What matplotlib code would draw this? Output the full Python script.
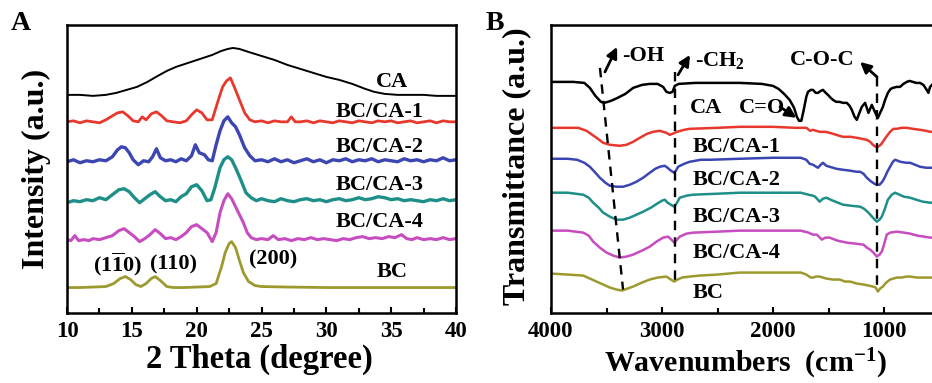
import matplotlib
matplotlib.use('Agg')
import numpy as np
import matplotlib.pyplot as plt
from matplotlib.ticker import MultipleLocator

# ---- XRD (panel A): (2 theta, offset intensity) ----
xrd_ca = [(10, 218), (11, 218), (12, 217), (13, 218), (13.8, 220), (14.6, 223), (15.4, 226),
          (16.2, 231), (17, 237), (17.7, 242), (18.4, 246), (19.1, 249), (19.8, 252),
          (20.5, 255), (21.2, 258), (21.9, 262), (22.4, 264), (22.8, 265), (23.3, 264),
          (24, 261), (25, 257), (26, 253), (27, 248), (28, 244), (29, 240), (30, 236),
          (31, 233), (32, 229), (33, 224), (33.7, 221), (34.5, 219), (35.5, 218),
          (36.5, 218), (37.5, 218), (38.5, 217), (40, 217)]
xrd_bcca1 = [(10, 191), (10.5, 192), (11, 190), (11.5, 192), (12, 191), (12.5, 190), (13, 193),
             (13.5, 197), (13.9, 200), (14.3, 201), (14.7, 197), (15.1, 192), (15.5, 191),
             (15.8, 196), (16.1, 193), (16.5, 199), (16.9, 201), (17.3, 197), (17.7, 192),
             (18.2, 191), (18.7, 190), (19.2, 192), (19.6, 198), (20.0, 203), (20.4, 200),
             (20.8, 193), (21.2, 193), (21.6, 210), (22.0, 226), (22.3, 232), (22.6, 235),
             (22.9, 226), (23.3, 213), (23.7, 200), (24.1, 193), (24.5, 191), (25, 192),
             (25.5, 190), (26, 192), (26.5, 191), (27, 191), (27.3, 196), (27.6, 191),
             (28, 191), (28.5, 192), (29, 190), (29.5, 192), (30, 191), (30.5, 190),
             (31, 192), (31.5, 191), (32, 190), (32.5, 192), (33, 191), (33.5, 190),
             (34, 192), (34.5, 191), (35, 192), (35.5, 190), (36, 191), (36.5, 192),
             (37, 190), (37.5, 191), (38, 192), (38.5, 190), (39, 192), (39.5, 191), (40, 191)]
xrd_bcca2 = [(10, 151), (10.5, 153), (11, 150), (11.5, 152), (12, 151), (12.5, 153), (13, 152),
             (13.5, 156), (13.9, 163), (14.2, 166), (14.5, 165), (14.8, 160), (15.1, 153),
             (15.5, 148), (15.9, 152), (16.3, 151), (16.6, 156), (16.9, 164), (17.2, 155),
             (17.6, 152), (18, 153), (18.4, 151), (18.8, 154), (19.2, 152), (19.6, 157),
             (19.9, 168), (20.2, 160), (20.6, 158), (20.9, 153), (21.2, 152), (21.5, 168),
             (21.8, 182), (22.1, 192), (22.4, 196), (22.7, 190), (23.0, 186), (23.3, 178),
             (23.7, 165), (24.1, 157), (24.5, 152), (25, 153), (25.5, 151), (26, 154),
             (26.5, 151), (27, 153), (27.5, 150), (28, 152), (28.5, 154), (29, 151),
             (29.5, 153), (30, 150), (30.5, 153), (31, 152), (31.5, 154), (32, 151),
             (32.5, 153), (33, 152), (33.5, 154), (34, 151), (34.5, 153), (35, 152),
             (35.5, 151), (36, 154), (36.5, 152), (37, 153), (37.5, 151), (38, 153),
             (38.5, 152), (39, 155), (39.5, 152), (40, 153)]
xrd_bcca3 = [(10, 110), (10.5, 112), (11, 111), (11.5, 113), (12, 112), (12.5, 115), (13, 113),
             (13.5, 118), (14, 123), (14.4, 124), (14.8, 121), (15.2, 115), (15.6, 110),
             (16, 114), (16.4, 118), (16.8, 121), (17.2, 116), (17.6, 112), (18, 113),
             (18.4, 111), (18.8, 116), (19.2, 119), (19.6, 126), (20, 128), (20.4, 122),
             (20.8, 112), (21.1, 113), (21.4, 125), (21.8, 145), (22.1, 153), (22.4, 156),
             (22.7, 153), (23.0, 145), (23.4, 133), (23.8, 120), (24.2, 115), (24.6, 112),
             (25, 114), (25.5, 112), (26, 111), (26.5, 114), (27, 112), (27.5, 111),
             (28, 113), (28.5, 114), (29, 112), (29.5, 113), (30, 111), (30.5, 113),
             (31, 114), (31.5, 112), (32, 113), (32.5, 115), (33, 113), (33.5, 114),
             (34, 116), (34.5, 115), (35, 113), (35.5, 114), (36, 112), (36.5, 113),
             (37, 112), (37.5, 111), (38, 113), (38.5, 112), (39, 114), (39.5, 112), (40, 113)]
xrd_bcca4 = [(10, 73), (10.3, 72), (10.6, 77), (10.9, 72), (11.3, 73), (11.7, 72), (12, 74),
             (12.5, 73), (13, 75), (13.5, 77), (14, 82), (14.4, 84), (14.8, 80), (15.2, 76),
             (15.6, 71), (16, 74), (16.4, 78), (16.8, 83), (17.2, 79), (17.6, 74), (18, 75),
             (18.4, 73), (18.8, 76), (19.2, 80), (19.6, 86), (20, 88), (20.4, 84), (20.8, 80),
             (21.2, 71), (21.5, 80), (21.8, 100), (22.1, 112), (22.4, 119), (22.7, 114),
             (23.0, 106), (23.3, 98), (23.6, 90), (23.9, 80), (24.2, 75), (24.6, 73),
             (25, 74), (25.5, 73), (25.9, 77), (26.3, 73), (26.8, 74), (27.3, 72),
             (27.8, 74), (28.3, 73), (28.8, 75), (29.3, 73), (29.8, 74), (30.3, 73),
             (30.8, 72), (31.3, 74), (31.8, 73), (32.3, 75), (32.8, 76), (33.3, 74),
             (33.8, 75), (34.3, 74), (34.8, 76), (35.3, 75), (35.8, 78), (36.2, 74),
             (36.6, 73), (37, 75), (37.5, 73), (38, 74), (38.5, 73), (39, 75), (39.5, 73), (40, 74)]
xrd_bc = [(10, 25), (11, 25), (12, 25.5), (13, 26), (13.6, 29), (14.1, 34), (14.5, 36),
          (14.9, 33), (15.3, 28), (15.7, 26), (16.1, 29), (16.5, 34), (16.8, 36), (17.2, 32),
          (17.7, 26), (18.2, 25), (19, 25), (20, 25.5), (21, 26), (21.5, 29), (21.9, 45),
          (22.2, 60), (22.5, 69), (22.7, 71), (23.0, 65), (23.3, 52), (23.6, 40), (24, 31),
          (24.5, 27), (25, 26), (27, 25.5), (30, 25), (33, 25), (36, 25), (40, 25)]

# ---- FTIR (panel B): (wavenumber, offset transmittance) ----
ftir_ca = [(4000, 231), (3800, 231), (3700, 230), (3650, 225), (3600, 217), (3550, 211),
           (3520, 210), (3460, 212), (3400, 215), (3330, 219), (3260, 225), (3180, 228),
           (3110, 229), (3040, 229), (2990, 226), (2960, 221), (2930, 220), (2905, 221),
           (2885, 227), (2850, 229), (2700, 230), (2300, 230), (2100, 229), (2000, 227),
           (1950, 224), (1900, 219), (1850, 213), (1810, 205), (1785, 196), (1765, 192),
           (1745, 192), (1725, 202), (1700, 216), (1685, 221), (1660, 223), (1640, 223),
           (1615, 220), (1595, 220), (1570, 222), (1550, 223), (1525, 220), (1505, 218),
           (1480, 215), (1460, 213), (1430, 211), (1400, 211), (1370, 210), (1335, 210),
           (1310, 207), (1290, 203), (1265, 196), (1245, 193), (1225, 199), (1200, 206),
           (1170, 210), (1155, 205), (1140, 200), (1125, 204), (1110, 208), (1090, 203),
           (1070, 198), (1055, 195), (1035, 200), (1010, 206), (990, 213), (965, 220),
           (940, 224), (920, 225), (885, 226), (855, 226), (825, 229), (795, 231),
           (770, 232), (740, 231), (710, 230), (675, 230), (645, 228), (615, 223),
           (600, 220), (585, 226), (560, 229), (500, 230), (400, 230)]
ftir_bcca1 = [(4000, 185), (3850, 185), (3755, 185), (3680, 182), (3590, 175), (3530, 170),
              (3470, 168), (3380, 167), (3320, 168), (3260, 171), (3200, 175), (3135, 179),
              (3080, 181), (3020, 182), (2960, 180), (2930, 178), (2905, 179), (2865, 181),
              (2800, 183), (2750, 184), (2500, 185), (2300, 186), (2000, 186), (1800, 185),
              (1700, 185), (1665, 182), (1640, 183), (1580, 181), (1530, 181), (1490, 180),
              (1430, 178), (1370, 176), (1300, 176), (1245, 175), (1200, 174), (1155, 173),
              (1125, 171), (1100, 168), (1075, 166), (1055, 166), (1030, 168), (1010, 171),
              (980, 176), (945, 181), (915, 184), (885, 184), (840, 185), (795, 185),
              (740, 184), (675, 183), (620, 182), (585, 181), (500, 181), (400, 181)]
ftir_bcca2 = [(4000, 154), (3850, 154), (3765, 153), (3700, 150), (3650, 146), (3600, 140),
              (3560, 135), (3510, 130), (3470, 127), (3410, 126), (3350, 126), (3290, 128),
              (3230, 131), (3170, 135), (3110, 140), (3060, 144), (3020, 146), (2975, 147),
              (2950, 145), (2930, 143), (2905, 141), (2890, 140), (2870, 143), (2855, 146),
              (2800, 149), (2750, 151), (2650, 153), (2570, 153), (2300, 154), (2000, 155),
              (1750, 155), (1700, 153), (1670, 149), (1640, 148), (1595, 145), (1570, 148),
              (1550, 150), (1520, 147), (1490, 146), (1430, 144), (1370, 143), (1300, 142),
              (1250, 141), (1215, 141), (1185, 139), (1155, 135), (1125, 132), (1100, 130),
              (1070, 128), (1040, 128), (1015, 131), (995, 135), (970, 141), (945, 146),
              (920, 151), (900, 153), (875, 152), (855, 151), (800, 150), (765, 150),
              (720, 148), (675, 146), (620, 145), (585, 145), (500, 145), (400, 145)]
ftir_bcca3 = [(4000, 120), (3850, 120), (3710, 118), (3660, 115), (3620, 110), (3570, 105),
              (3530, 100), (3470, 96), (3410, 93), (3350, 93), (3290, 95), (3230, 98),
              (3170, 101), (3100, 105), (3045, 109), (3000, 112), (2975, 113), (2950, 110),
              (2920, 108), (2890, 106), (2865, 110), (2840, 115), (2780, 117), (2720, 118),
              (2500, 119), (2300, 120), (2000, 120), (1750, 120), (1680, 118), (1640, 117),
              (1620, 116), (1580, 111), (1550, 114), (1520, 115), (1460, 112), (1370, 108),
              (1300, 107), (1215, 106), (1180, 104), (1140, 100), (1100, 95), (1065, 91),
              (1040, 93), (1020, 96), (995, 103), (965, 113), (930, 118), (900, 120),
              (860, 118), (820, 116), (765, 115), (710, 113), (650, 111), (585, 110),
              (500, 110), (400, 110)]
ftir_bcca4 = [(4000, 82), (3850, 82), (3710, 80), (3660, 77), (3620, 71), (3560, 65),
              (3500, 60), (3440, 57), (3380, 55), (3320, 56), (3260, 58), (3180, 62),
              (3110, 66), (3050, 71), (2990, 75), (2945, 76), (2915, 73), (2890, 70),
              (2865, 73), (2840, 76), (2780, 79), (2720, 80), (2500, 81), (2300, 82),
              (2000, 82), (1750, 82), (1680, 80), (1640, 78), (1605, 78), (1560, 73),
              (1530, 75), (1490, 75), (1420, 72), (1335, 70), (1260, 69), (1185, 68),
              (1155, 65), (1125, 63), (1095, 60), (1065, 56), (1040, 58), (1020, 61),
              (1000, 68), (975, 78), (945, 80), (885, 81), (820, 80), (765, 79), (700, 77),
              (640, 76), (585, 75), (500, 75), (400, 75)]
ftir_bc = [(4000, 39), (3850, 38), (3710, 37), (3650, 34), (3590, 31), (3530, 28), (3470, 25),
           (3410, 23), (3360, 22), (3310, 24), (3260, 26), (3180, 30), (3110, 33), (3040, 35),
           (2960, 36), (2920, 33), (2890, 31), (2860, 33), (2820, 35), (2750, 36), (2660, 37),
           (2500, 38), (2300, 40), (2000, 40), (1750, 40), (1700, 38), (1660, 35), (1640, 35),
           (1610, 36), (1580, 36), (1520, 34), (1460, 33), (1400, 33), (1350, 31), (1305, 31),
           (1245, 29), (1185, 28), (1140, 27), (1100, 26), (1075, 25), (1055, 21), (1035, 24),
           (1010, 26), (980, 30), (945, 33), (915, 34), (885, 35), (840, 35), (800, 36),
           (765, 36), (700, 35), (640, 35), (585, 35), (500, 35), (400, 35)]

sample_names = ['CA', 'BC/CA-1', 'BC/CA-2', 'BC/CA-3', 'BC/CA-4', 'BC']
colors = ['#000000', '#e8372c', '#3b46b2', '#1e8f88', '#c64cc0', '#9c9a2e']
xrd_series = [xrd_ca, xrd_bcca1, xrd_bcca2, xrd_bcca3, xrd_bcca4, xrd_bc]
ftir_series = [ftir_ca, ftir_bcca1, ftir_bcca2, ftir_bcca3, ftir_bcca4, ftir_bc]

# label anchors
xrd_label_x = [35.1, 34.1, 34.1, 34.1, 34.1, 35.1]
xrd_label_y = [231, 201, 166, 128, 91, 41]
ftir_label_x = 2720
ftir_label_y = [None, 166, 133, 96, 60, 20]
peak_labels = [r'(1$\overline{\mathrm{1}}$0)', '(110)', '(200)']
peak_x = [13.9, 18.25, 25.9]
peak_y = [48, 48, 53]

plt.rcParams['font.family'] = 'Liberation Serif'
plt.rcParams['font.weight'] = 'bold'
plt.rcParams['axes.labelweight'] = 'bold'
plt.rcParams['mathtext.fontset'] = 'custom'
plt.rcParams['mathtext.rm'] = 'Liberation Serif:bold'
plt.rcParams['mathtext.bf'] = 'Liberation Serif:bold'
plt.rcParams['mathtext.it'] = 'Liberation Serif:bold:italic'

fig = plt.figure(figsize=(9.32, 3.83), dpi=100)
ax_a = fig.add_axes([67 / 932, 70.5 / 383, 389 / 932, 287.5 / 383])
ax_b = fig.add_axes([551 / 932, 70.5 / 383, 399.6 / 932, 287.5 / 383])

for ax in (ax_a, ax_b):
    for sp in ax.spines.values():
        sp.set_linewidth(1.8)
    ax.tick_params(axis='x', which='both', direction='in', labelsize=16.5, pad=6,
                   width=1.5, top=False)
    ax.tick_params(axis='x', which='major', length=4)
    ax.tick_params(axis='x', which='minor', length=3.5)
    ax.set_yticks([])
    ax.set_ylim(0, 288)

# panel A
xrd_lw = [1.4, 2.0, 2.4, 2.4, 2.2, 2.0]
for data, col, lw in zip(xrd_series, colors, xrd_lw):
    xs, ys = zip(*data)
    ax_a.plot(xs, ys, color=col, lw=lw)
for name, lx, ly in zip(sample_names, xrd_label_x, xrd_label_y):
    ax_a.text(lx, ly, name, ha='center', va='center', fontsize=16, fontweight='bold')
for lab, px, py in zip(peak_labels, peak_x, peak_y):
    ax_a.text(px, py, lab, ha='center', va='center', fontsize=16, fontweight='bold')
ax_a.set_xlim(10, 40)
ax_a.xaxis.set_major_locator(MultipleLocator(5))
ax_a.xaxis.set_minor_locator(MultipleLocator(2.5))
ax_a.set_xlabel('2 Theta (degree)', fontsize=23.5)
ax_a.xaxis.set_label_coords(0.494, -0.11)
ax_a.set_ylabel('Intensity (a.u.)', fontsize=23)
ax_a.yaxis.set_label_coords(-0.042, 0.5)

# panel B
for data, col in zip(ftir_series, colors):
    xs, ys = zip(*data)
    ax_b.plot(xs, ys, color=col, lw=1.8)
for name, ly in zip(sample_names[1:], ftir_label_y[1:]):
    ax_b.text(ftir_label_x, ly, name, ha='left', va='center', fontsize=16, fontweight='bold')
ax_b.text(2745, 205, 'CA', ha='left', va='center', fontsize=16, fontweight='bold')
ax_b.text(2310, 205, 'C=O', ha='left', va='center', fontsize=16, fontweight='bold')
ax_b.text(3171, 257, '-OH', ha='center', va='center', fontsize=16, fontweight='bold')
ax_b.text(2477, 252, r'-CH$_2$', ha='center', va='center', fontsize=16, fontweight='bold')
ax_b.text(1559, 253, 'C-O-C', ha='center', va='center', fontsize=16, fontweight='bold')

# dashed guide lines
dash = dict(color='k', lw=1.7, ls=(0, (4, 3)))
ax_b.plot([3559, 3351], [245, 23], **dash)
ax_b.plot([2885, 2885], [241, 30], **dash)
ax_b.plot([1060, 1060], [236, 22], **dash)

arrow = dict(arrowstyle='-|>', color='k', lw=2.0, mutation_scale=16, shrinkA=0, shrinkB=0)
ax_b.annotate('', xy=(3405, 266), xytext=(3514, 241), arrowprops=arrow)
ax_b.annotate('', xy=(2748, 258), xytext=(2856, 238), arrowprops=arrow)
ax_b.annotate('', xy=(1216, 251), xytext=(1063, 236), arrowprops=arrow)
ax_b.annotate('', xy=(1790, 195), xytext=(1937, 206), arrowprops=arrow)

ax_b.set_xlim(4000, 400)
ax_b.set_xticks([4000, 3000, 2000, 1000])
ax_b.xaxis.set_minor_locator(MultipleLocator(500))
ax_b.set_xlabel(r'Wavenumbers  (cm$^{\mathrm{-1}}$)', fontsize=21.5)
ax_b.xaxis.set_label_coords(0.486, -0.12)
ax_b.set_ylabel('Transmittance (a.u.)', fontsize=23)
ax_b.yaxis.set_label_coords(-0.05, 0.51)

fig.text(21 / 932, 1 - 23 / 383, 'A', ha='center', va='center', fontsize=20, fontweight='bold')
fig.text(495 / 932, 1 - 24 / 383, 'B', ha='center', va='center', fontsize=20, fontweight='bold')

fig.savefig('out.png', dpi=100)
